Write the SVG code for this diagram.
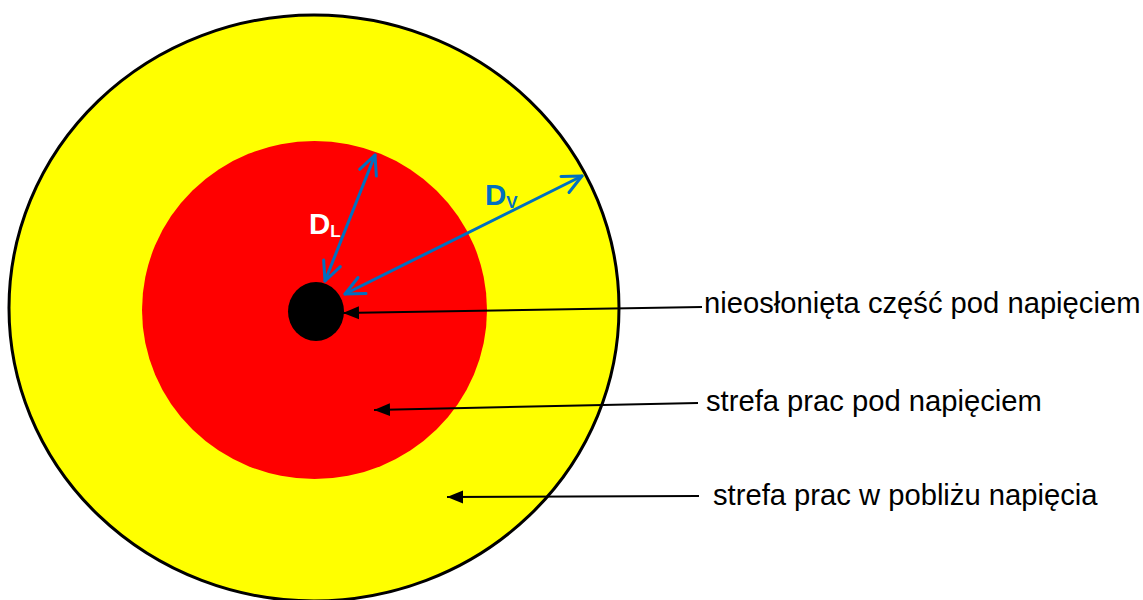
<svg xmlns="http://www.w3.org/2000/svg" width="1143" height="600" viewBox="0 0 1143 600">
  <style>
    .lbl { font-family: "Liberation Sans", Arial, sans-serif; font-size: 29.2px; fill: #000; }
    .dim { font-family: "Liberation Sans", Arial, sans-serif; font-weight: bold; }
    .blue { stroke: #0070C0; stroke-width: 3; fill: none; stroke-linecap: round; }
    .lead { stroke: #000; stroke-width: 2; fill: none; }
  </style>
  <defs>
    <marker id="openV" viewBox="-22 -12 26 24" refX="0" refY="0" markerWidth="26" markerHeight="24" markerUnits="userSpaceOnUse" orient="auto-start-reverse">
      <path d="M-19,-9 L0,0 L-19,9" fill="none" stroke="#0070C0" stroke-width="3" stroke-linecap="round" stroke-linejoin="round"/>
    </marker>
    <marker id="solid" viewBox="0 -8 18 16" refX="16" refY="0" markerWidth="18" markerHeight="16" markerUnits="userSpaceOnUse" orient="auto">
      <path d="M0,-6.5 L16,0 L0,6.5 Z" fill="#000"/>
    </marker>
  </defs>
  <rect width="1143" height="600" fill="#fff"/>

  <g id="zone-near">
    <ellipse cx="314" cy="308" rx="305" ry="293" fill="#FFFF00" stroke="#000" stroke-width="3"/>
  </g>
  <g id="zone-live">
    <ellipse cx="314.5" cy="310" rx="172.5" ry="169" fill="#FF0000"/>
  </g>
  <g id="live-part">
    <ellipse cx="316" cy="311.5" rx="28" ry="29.5" fill="#000"/>
  </g>

  <g id="connectors">
    <line class="blue" x1="325" y1="281" x2="375" y2="155" marker-start="url(#openV)" marker-end="url(#openV)"/>
    <line class="blue" x1="345" y1="294" x2="582" y2="176" marker-start="url(#openV)" marker-end="url(#openV)"/>
    <line class="lead" x1="702" y1="307" x2="343" y2="313" marker-end="url(#solid)"/>
    <line class="lead" x1="698" y1="403" x2="374" y2="410" marker-end="url(#solid)"/>
    <line class="lead" x1="699" y1="496" x2="447" y2="497" marker-end="url(#solid)"/>
  </g>

  <g id="label-DL">
    <text class="dim" x="309" y="233.5" font-size="29.5" fill="#fff">D<tspan font-size="17" dy="3.5">L</tspan></text>
  </g>
  <g id="label-DV">
    <text class="dim" x="485" y="204.5" font-size="29.5" fill="#0070C0">D<tspan font-size="17" dy="3.5">V</tspan></text>
  </g>

  <g id="label-live-part">
    <text class="lbl" x="704" y="313">nieosłonięta część pod napięciem</text>
  </g>
  <g id="label-live-zone">
    <text class="lbl" x="706" y="411">strefa prac pod napięciem</text>
  </g>
  <g id="label-near-zone">
    <text class="lbl" x="713" y="505">strefa prac w pobliżu napięcia</text>
  </g>
</svg>
